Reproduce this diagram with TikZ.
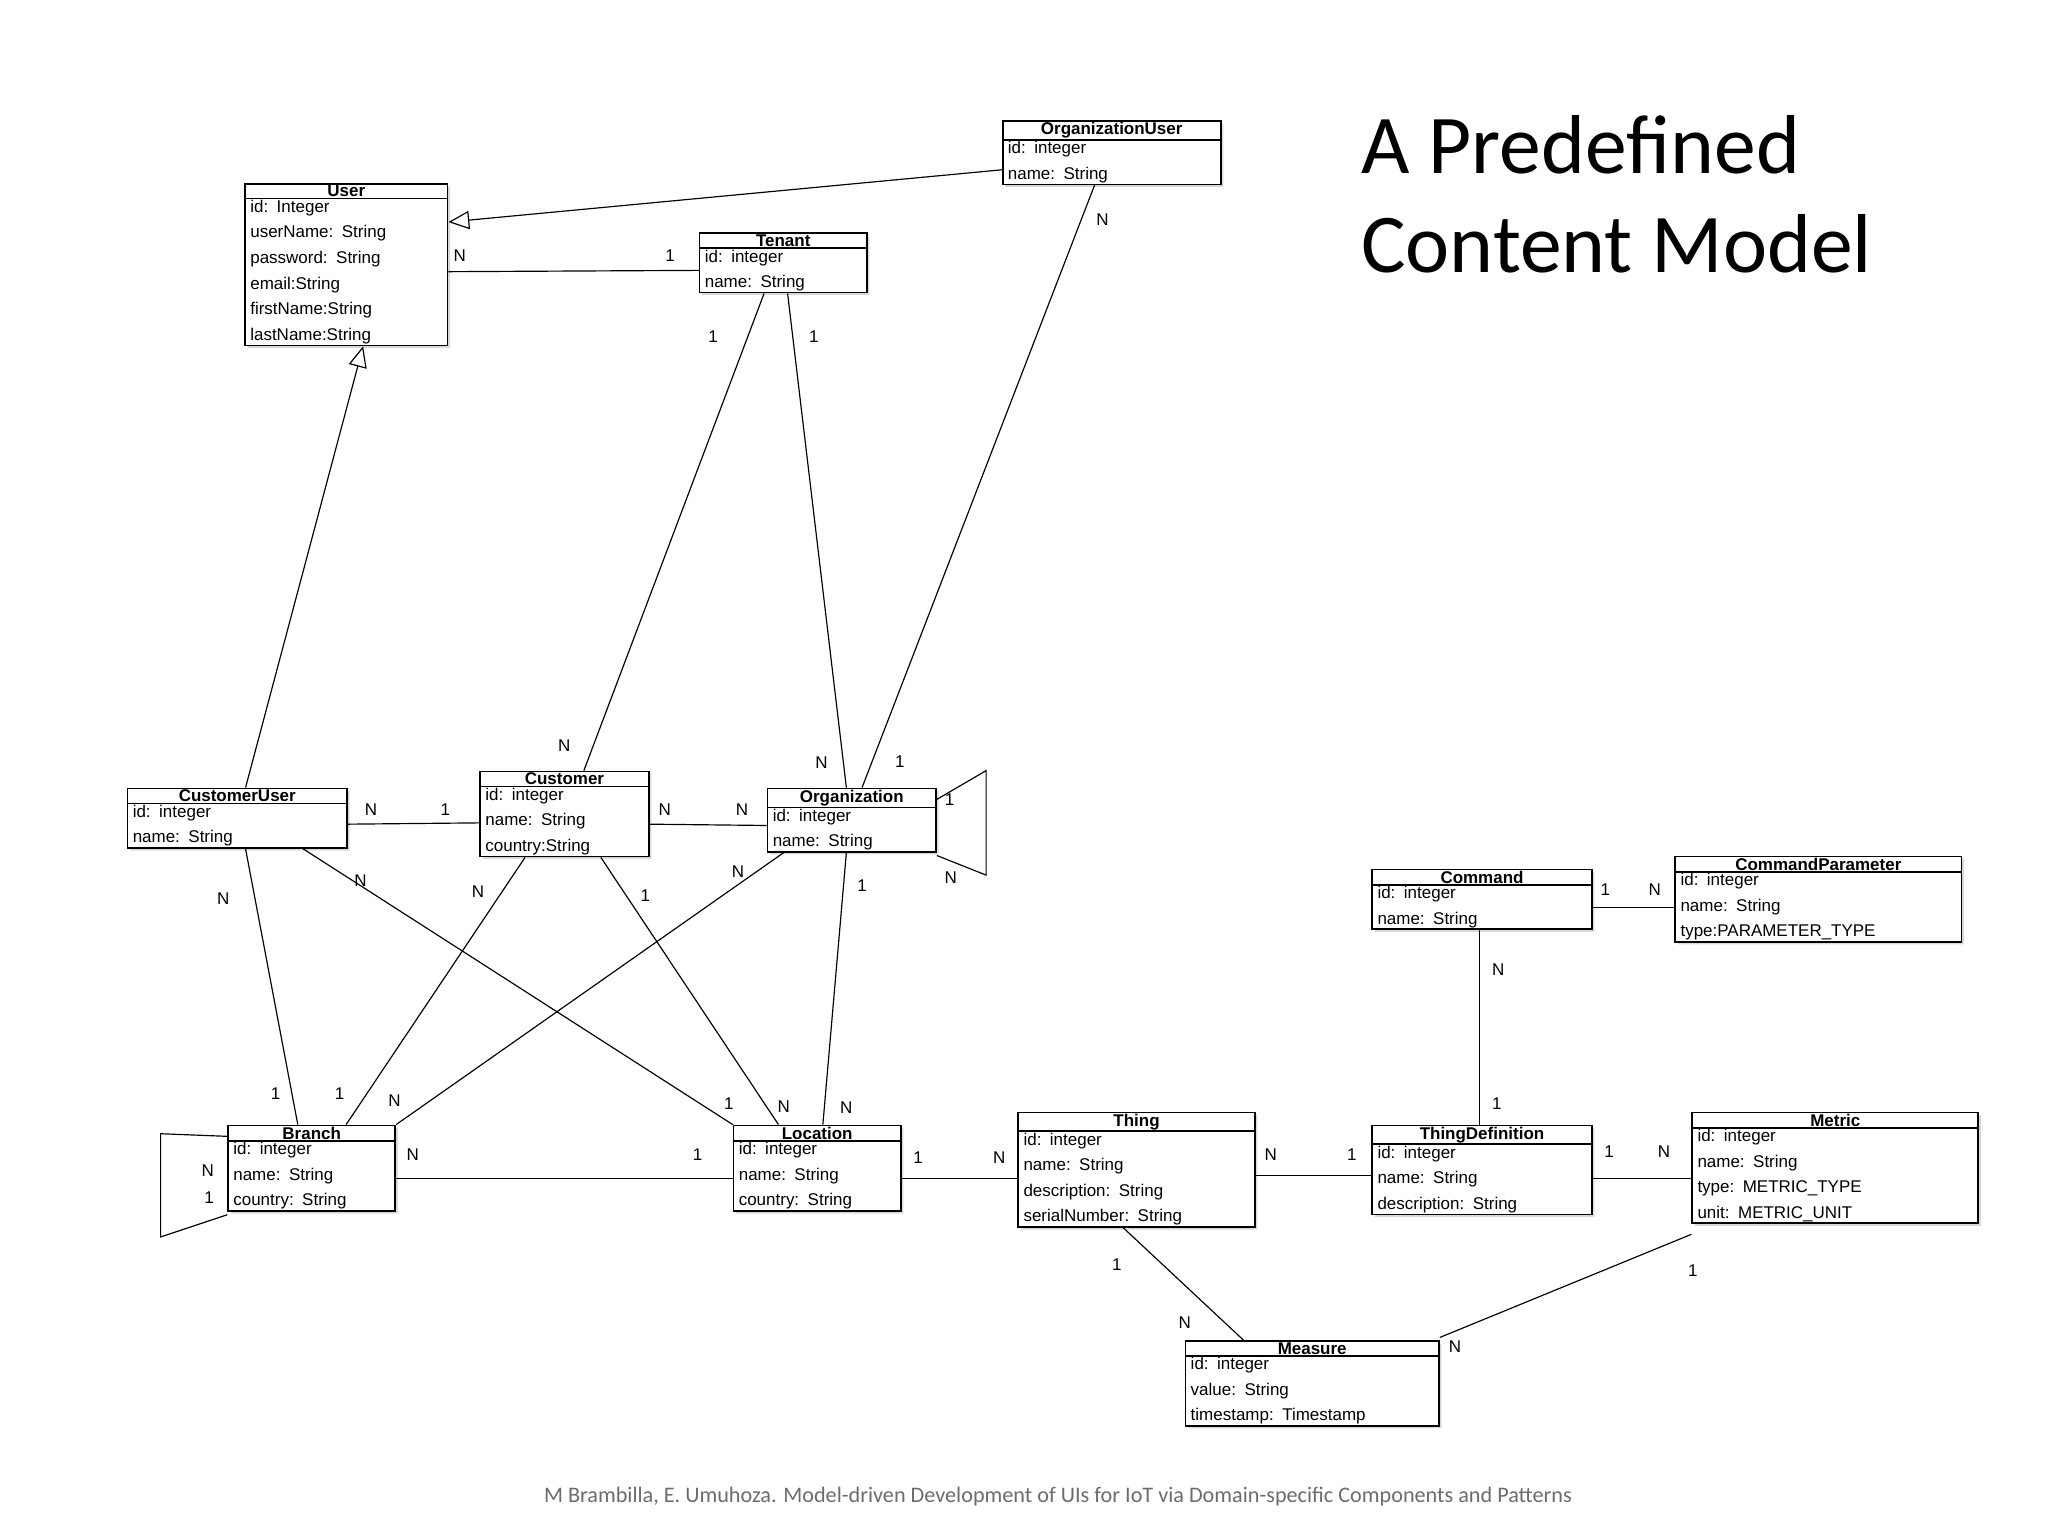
\documentclass[tikz,border=0pt]{standalone}
\usepackage{fontspec}
\setmainfont{Liberation Sans}
\newfontfamily\titlefont{Carlito}
\usetikzlibrary{shapes.multipart,shadows,arrows.meta,calc}
\begin{document}
\begin{tikzpicture}[x=1pt,y=-1pt,
  cls/.style={rectangle split, rectangle split parts=2, draw, line width=1.3pt, fill=white,
    anchor=north west, inner xsep=4pt, inner ysep=0.5pt, align=left,
    font=\fontsize{13}{19.6}\selectfont,
    drop shadow={shadow xshift=2pt, shadow yshift=-2pt, fill=gray!60}},
  ln/.style={line width=0.9pt},
  gen/.style={ln, -{Triangle[open, length=16pt, width=14pt]}},
  lab/.style={font=\fontsize{13}{15}\selectfont, inner sep=0pt}]
\useasboundingbox (0,0) rectangle (1568,1176);

% classes
\node[cls, text width=147pt] (user) at (187,140) {\centering\textbf{User}\par\nodepart{two}id: Integer\\userName: String\\password: String\\email:String\\firstName:String\\lastName:String};
\node[cls, text width=159pt] (orguser) at (767,92) {\centering\textbf{OrganizationUser}\par\nodepart{two}id: integer\\name: String};
\node[cls, text width=120pt] (tenant) at (535,178) {\centering\textbf{Tenant}\par\nodepart{two}id: integer\\name: String};
\node[cls, text width=160pt] (custuser) at (97,603) {\centering\textbf{CustomerUser}\par\nodepart{two}id: integer\\name: String};
\node[cls, text width=121pt] (customer) at (367,590) {\centering\textbf{Customer}\par\nodepart{two}id: integer\\name: String\\country:String};
\node[cls, text width=121pt] (org) at (587,603) {\centering\textbf{Organization}\par\nodepart{two}id: integer\\name: String};
\node[cls, text width=160pt] (command) at (1050,665) {\centering\textbf{Command}\par\nodepart{two}id: integer\\name: String};
\node[cls, text width=211pt] (cparam) at (1282,655) {\centering\textbf{CommandParameter}\par\nodepart{two}id: integer\\name: String\\type:PARAMETER\_TYPE};
\node[cls, text width=120pt] (branch) at (174,861) {\centering\textbf{Branch}\par\nodepart{two}id: integer\\name: String\\country: String};
\node[cls, text width=120pt] (location) at (561,861) {\centering\textbf{Location}\par\nodepart{two}id: integer\\name: String\\country: String};
\node[cls, text width=173pt] (thing) at (779,851) {\centering\textbf{Thing}\par\nodepart{two}id: integer\\name: String\\description: String\\serialNumber: String};
\node[cls, text width=160pt] (thingdef) at (1050,861) {\centering\textbf{ThingDefinition}\par\nodepart{two}id: integer\\name: String\\description: String};
\node[cls, text width=211pt] (metric) at (1295,851) {\centering\textbf{Metric}\par\nodepart{two}id: integer\\name: String\\type: METRIC\_TYPE\\unit: METRIC\_UNIT};
\node[cls, text width=186pt] (measure) at (907,1026) {\centering\textbf{Measure}\par\nodepart{two}id: integer\\value: String\\timestamp: Timestamp};

% generalisations
\draw[gen] (orguser.west |- 0,130) -- (user.east |- 0,170);
\draw[gen] (custuser.north -| 188,0) -- (user.south -| 278,0);

% associations
\draw[ln] (user.east |- 0,208) -- (tenant.west |- 0,207);
\draw[ln] (tenant.south -| 585,0) -- (customer.north -| 447,0);
\draw[ln] (tenant.south -| 603,0) -- (org.north -| 648,0);
\draw[ln] (orguser.south -| 838,0) -- (org.north -| 660,0);
\draw[ln] (custuser.east |- 0,631) -- (customer.west |- 0,630);
\draw[ln] (customer.east |- 0,631) -- (org.west |- 0,632);
\draw[ln] (org.east |- 0,612) -- (755,590) -- (755,670) -- (org.east |- 0,655);
\draw[ln] (custuser.south -| 188,0) -- (branch.north -| 228,0);
\draw[ln] (custuser.south -| 232,0) -- (location.north west);
\draw[ln] (customer.south -| 402,0) -- (branch.north -| 265,0);
\draw[ln] (customer.south -| 460,0) -- (location.north -| 596,0);
\draw[ln] (org.south -| 600,0) -- (branch.north east);
\draw[ln] (org.south -| 648,0) -- (location.north -| 630,0);
\draw[ln] (branch.west |- 0,870) -- (123,868) -- (123,947) -- (branch.west |- 0,930);
\draw[ln] (branch.east |- 0,902) -- (location.west |- 0,902);
\draw[ln] (location.east |- 0,902) -- (thing.west |- 0,902);
\draw[ln] (thing.east |- 0,900) -- (thingdef.west |- 0,900);
\draw[ln] (thingdef.east |- 0,902) -- (metric.west |- 0,902);
\draw[ln] (command.south -| 1133,0) -- (thingdef.north -| 1133,0);
\draw[ln] (command.east |- 0,695) -- (cparam.west |- 0,695);
\draw[ln] (thing.south -| 860,0) -- (measure.north -| 952,0);
\draw[ln] (metric.west |- 0,945) -- (measure.east |- 0,1024);

% multiplicities
\foreach \x/\y/\t in {352/196/N, 513/196/1, 546/258/1, 432/571/N, 623/258/1, 629/584/N,
  844/168/N, 689/583/1, 284/620/N, 341/620/1, 509/620/N, 568/620/N, 727/612/1, 728/672/N,
  171/688/N, 211/837/1, 276/674/N, 558/845/1, 366/683/N, 260/837/1, 494/686/1, 600/847/N,
  565/667/N, 302/843/N, 660/678/1, 648/848/N, 159/896/N, 160/917/1, 316/884/N, 534/884/1,
  703/886/1, 765/886/N, 973/884/N, 1035/884/1, 1232/882/1, 1274/882/N, 1147/742/N, 1146/845/1,
  1229/681/1, 1267/681/N, 855/968/1, 907/1013/N, 1296/973/1, 1114/1031/N}
  \node[lab] (m\x-\y) at (\x,\y) {\t};

% title and footer
\node[anchor=north west, align=left, font=\titlefont\fontsize{64}{76}\selectfont, inner sep=0pt] (title) at (1042,88) {A Predefined\\Content Model};
\node[font=\titlefont\fontsize{17}{20}\selectfont, text=gray!85!black, inner sep=0pt] (footer) at (810,1146) {M Brambilla, E. Umuhoza. Model-driven Development of UIs for IoT via Domain-specific Components and Patterns};
\end{tikzpicture}
\end{document}
